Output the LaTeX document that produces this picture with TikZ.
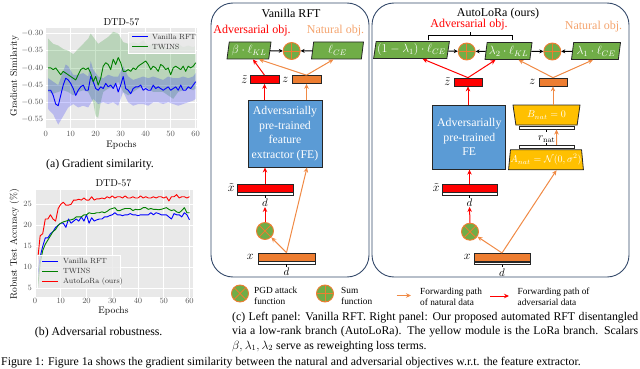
\documentclass[tikz,border=0pt]{standalone}
\usepackage{amsmath,amssymb}
\usepackage{fontspec}
\newfontfamily\timesfont{Liberation Serif}
\usepackage{tikz}
\usetikzlibrary{positioning,shapes.geometric,arrows.meta}
\definecolor{PanelEdge}{HTML}{34496A}
\definecolor{LossGreen}{HTML}{70AD47}
\definecolor{EdgeDark}{HTML}{262626}
\definecolor{AdvRed}{HTML}{FF0000}
\definecolor{NatOrange}{HTML}{ED7D31}
\definecolor{NatArrow}{HTML}{F08A45}
\definecolor{NatText}{HTML}{F4A46E}
\definecolor{FEBlue}{HTML}{5B9BD5}
\definecolor{LoraGold}{HTML}{FFC000}
\definecolor{PlotBg}{HTML}{E9E9E9}
\definecolor{PlotTick}{HTML}{555555}
\definecolor{CurveBlue}{HTML}{0000FF}
\definecolor{CurveGreen}{HTML}{008000}
\definecolor{CurveRed}{HTML}{FF0000}

\tikzset{
  panel/.style={draw=PanelEdge,line width=0.9pt,rounded corners=22pt,inner sep=0pt},
  paneltitle/.style={font=\timesfont\fontsize{12}{14}\selectfont,inner sep=0pt},
  advtitle/.style={paneltitle,text=AdvRed},
  nattitle/.style={paneltitle,text=NatText},
  lossbox/.style={trapezium,trapezium left angle=78,trapezium right angle=102,
    trapezium stretches body=true,fill=LossGreen,draw=EdgeDark,line width=0.8pt,
    minimum height=17pt,inner xsep=1pt,inner ysep=0pt,text=white,
    font=\fontsize{11.5}{13}\selectfont},
  opcirc/.style={circle,minimum size=17pt,inner sep=0pt,fill=LossGreen,draw=NatOrange,line width=0.9pt},
  sumop/.style={opcirc,path picture={\draw[NatOrange,line width=0.9pt]
    (path picture bounding box.north) -- (path picture bounding box.south)
    (path picture bounding box.west) -- (path picture bounding box.east);}},
  pgdop/.style={opcirc,path picture={\draw[NatOrange,line width=0.9pt]
    (path picture bounding box.north west) -- (path picture bounding box.south east)
    (path picture bounding box.north east) -- (path picture bounding box.south west);}},
  advbar/.style={rectangle,fill=AdvRed,draw=EdgeDark,line width=0.7pt,minimum height=8pt,inner sep=0pt},
  natbar/.style={advbar,fill=NatOrange},
  dimbar/.style={rectangle,fill=white,draw=EdgeDark,line width=0.5pt,minimum height=2.6pt,inner sep=0pt},
  varlbl/.style={inner sep=0pt,font=\fontsize{13}{15}\selectfont},
  dimlbl/.style={inner sep=0pt,font=\fontsize{11}{13}\selectfont},
  febox/.style={rectangle,fill=FEBlue,draw=EdgeDark,line width=0.9pt,text=white,align=center,
    inner sep=0pt,font=\timesfont\fontsize{11.8}{14.5}\selectfont},
  lorabox/.style={trapezium,trapezium stretches body=true,fill=LoraGold,draw=EdgeDark,line width=0.8pt,
    minimum height=20pt,inner xsep=0pt,inner ysep=0pt,text=white,font=\fontsize{10}{12}\selectfont},
  advarr/.style={-{Stealth[length=5pt,width=4.5pt]},draw=AdvRed,line width=1pt},
  natarr/.style={-{Stealth[length=5pt,width=4.5pt]},draw=NatArrow,line width=1pt},
  sumarr/.style={-{Stealth[length=4pt,width=4pt]},draw=black,line width=1pt},
  legtxt/.style={anchor=west,align=left,inner sep=0pt,font=\timesfont\fontsize{9.3}{11}\selectfont},
  captxt/.style={inner sep=0pt,font=\timesfont\fontsize{11.8}{14.5}\selectfont},
  plottitle/.style={inner sep=0pt,font=\fontsize{10}{12}\selectfont},
  plotlbl/.style={inner sep=0pt,font=\fontsize{9.5}{11}\selectfont},
  ticklbl/.style={inner sep=0pt,text=PlotTick,font=\fontsize{8.5}{10}\selectfont},
  keytxt/.style={anchor=west,inner sep=0pt,text=black!80,font=\fontsize{7.5}{9}\selectfont},
  gridln/.style={white,line width=0.7pt},
}

\begin{document}
\begin{tikzpicture}[x=1pt,y=-1pt]
  \useasboundingbox (0,0) rectangle (640,369);
  \clip (0,0) rectangle (640,369);

  % (a) gradient similarity
  \node[plottitle] (gstitle) at (121.5,22) {DTD-57};
  \node[plotlbl,rotate=90] (gsylab) at (14.5,76) {Gradient Similarity};
  \node[plotlbl] (gsxlab) at (121.5,145) {Epochs};
  \begin{scope}[shift={(45.7,-69.7)},x=2.5pt,y=344pt]
    \fill[PlotBg] (0,-0.5747) rectangle (60.5,-0.284);
    \foreach \e in {0,10,...,60}
      \draw[gridln] (\e,-0.5747) -- (\e,-0.284);
    \foreach \v in {-0.55,-0.5,-0.45,-0.4,-0.35,-0.3}
      \draw[gridln] (0,\v) -- (60.5,\v);
    \fill[CurveGreen,opacity=0.2] (1,-0.315) -- (3,-0.33) -- (5,-0.335) -- (7,-0.345) -- (9,-0.35) -- (11,-0.36) -- (13,-0.345) -- (15,-0.33) -- (17,-0.315) -- (18,-0.3) -- (19,-0.31) -- (21,-0.33) -- (23,-0.32) -- (25,-0.31) -- (27,-0.295) -- (29,-0.3) -- (31,-0.325) -- (33,-0.33) -- (35,-0.325) -- (37,-0.33) -- (39,-0.32) -- (41,-0.335) -- (43,-0.33) -- (45,-0.335) -- (47,-0.335) -- (49,-0.345) -- (51,-0.34) -- (53,-0.33) -- (55,-0.34) -- (57,-0.335) -- (59,-0.34) -- (60,-0.335)
      -- (60,-0.46) -- (59,-0.465) -- (57,-0.46) -- (55,-0.465) -- (53,-0.47) -- (51,-0.49) -- (49,-0.48) -- (47,-0.47) -- (45,-0.47) -- (43,-0.47) -- (41,-0.46) -- (39,-0.455) -- (37,-0.46) -- (35,-0.47) -- (33,-0.48) -- (31,-0.47) -- (29,-0.44) -- (27,-0.455) -- (25,-0.46) -- (23,-0.47) -- (22,-0.5) -- (21,-0.545) -- (20,-0.54) -- (19,-0.5) -- (17,-0.47) -- (15,-0.465) -- (13,-0.47) -- (11,-0.48) -- (9,-0.47) -- (7,-0.465) -- (5,-0.47) -- (3,-0.475) -- (1,-0.47) -- cycle;
    \fill[CurveBlue,opacity=0.2] (1,-0.43) -- (3,-0.44) -- (5,-0.45) -- (7,-0.41) -- (8,-0.39) -- (9,-0.395) -- (11,-0.42) -- (13,-0.42) -- (15,-0.415) -- (17,-0.425) -- (18,-0.38) -- (19,-0.405) -- (21,-0.425) -- (23,-0.43) -- (25,-0.42) -- (27,-0.425) -- (29,-0.425) -- (31,-0.395) -- (33,-0.425) -- (35,-0.435) -- (37,-0.43) -- (39,-0.425) -- (41,-0.43) -- (43,-0.425) -- (45,-0.43) -- (47,-0.435) -- (49,-0.425) -- (51,-0.43) -- (53,-0.43) -- (55,-0.425) -- (57,-0.43) -- (59,-0.425) -- (60,-0.415)
      -- (60,-0.49) -- (59,-0.495) -- (57,-0.5) -- (55,-0.505) -- (53,-0.51) -- (51,-0.505) -- (49,-0.5) -- (47,-0.505) -- (45,-0.5) -- (43,-0.5) -- (41,-0.51) -- (39,-0.505) -- (37,-0.505) -- (35,-0.51) -- (33,-0.5) -- (31,-0.47) -- (29,-0.51) -- (27,-0.5) -- (25,-0.505) -- (23,-0.5) -- (21,-0.505) -- (19,-0.49) -- (17,-0.515) -- (15,-0.51) -- (13,-0.515) -- (11,-0.505) -- (9,-0.515) -- (7,-0.54) -- (5,-0.565) -- (3,-0.535) -- (1,-0.52) -- cycle;
    \draw[CurveBlue,line width=0.9pt,line join=round] plot coordinates {(1,-0.465) (2,-0.465) (3,-0.48) (4,-0.505) (5,-0.51) (6,-0.48) (7,-0.45) (8,-0.43) (9,-0.435) (10,-0.445) (11,-0.46) (12,-0.48) (13,-0.465) (14,-0.455) (15,-0.45) (16,-0.465) (17,-0.465) (18,-0.425) (19,-0.44) (20,-0.46) (21,-0.465) (22,-0.455) (23,-0.46) (24,-0.445) (25,-0.455) (26,-0.45) (27,-0.46) (28,-0.445) (29,-0.47) (30,-0.45) (31,-0.425) (32,-0.46) (33,-0.465) (34,-0.475) (35,-0.46) (36,-0.455) (37,-0.455) (38,-0.45) (39,-0.465) (40,-0.46) (41,-0.465) (42,-0.465) (43,-0.45) (44,-0.46) (45,-0.455) (46,-0.46) (47,-0.465) (48,-0.46) (49,-0.455) (50,-0.465) (51,-0.46) (52,-0.455) (53,-0.465) (54,-0.45) (55,-0.465) (56,-0.465) (57,-0.455) (58,-0.46) (59,-0.45) (60,-0.44)};
    \draw[CurveGreen,line width=0.9pt,line join=round] plot coordinates {(1,-0.4) (2,-0.4) (3,-0.405) (4,-0.4) (5,-0.41) (6,-0.42) (7,-0.41) (8,-0.415) (9,-0.42) (10,-0.425) (11,-0.43) (12,-0.435) (13,-0.42) (14,-0.405) (15,-0.4) (16,-0.405) (17,-0.4) (18,-0.415) (19,-0.44) (20,-0.425) (21,-0.45) (22,-0.43) (23,-0.395) (24,-0.385) (25,-0.39) (26,-0.405) (27,-0.375) (28,-0.39) (29,-0.37) (30,-0.385) (31,-0.41) (32,-0.41) (33,-0.405) (34,-0.41) (35,-0.4) (36,-0.405) (37,-0.395) (38,-0.39) (39,-0.385) (40,-0.38) (41,-0.39) (42,-0.405) (43,-0.395) (44,-0.4) (45,-0.41) (46,-0.39) (47,-0.395) (48,-0.405) (49,-0.4) (50,-0.42) (51,-0.4) (52,-0.395) (53,-0.4) (54,-0.405) (55,-0.395) (56,-0.41) (57,-0.395) (58,-0.4) (59,-0.395) (60,-0.385)};
    \foreach \v/\t [count=\i] in {-0.55/-0.55,-0.5/-0.50,-0.45/-0.45,-0.4/-0.40,-0.35/-0.35,-0.3/-0.30}
      \node[ticklbl,anchor=east] (gsy\i) at (-0.9,\v) {$\t$};
    \foreach \e in {0,10,...,60}
      \node[ticklbl,anchor=north] (gsx\e) at (\e,-0.585) {$\e$};
  \end{scope}
  \node[draw=white,fill=PlotBg,fill opacity=0.8,minimum width=67pt,minimum height=21pt,inner sep=0pt] (gskey) at (161.5,42.5) {};
  \draw[CurveBlue,line width=1pt] (132,36.5) -- (148,36.5);
  \node[keytxt] (gskeyblue) at (152,36.5) {Vanilla RFT};
  \draw[CurveGreen,line width=1pt] (132,47) -- (148,47);
  \node[keytxt] (gskeygreen) at (152,47) {TWINS};
  \node[captxt] (gscap) at (100,164.5) {(a) Gradient similarity.};

  % (b) adversarial robustness
  \node[plottitle] (ratitle) at (113.5,183.5) {DTD-57};
  \node[plotlbl,rotate=90] (raylab) at (14.5,244) {Robust Test Accuracy (\%)};
  \node[plotlbl] (raxlab) at (113.5,311) {Epochs};
  \begin{scope}[shift={(35,309.3)},x=2.575pt,y=4.2pt]
    \fill[PlotBg] (0,2.93) rectangle (61.4,28.4);
    \foreach \e in {0,10,...,60}
      \draw[gridln] (\e,2.93) -- (\e,28.4);
    \foreach \v in {5,10,...,25}
      \draw[gridln] (0,\v) -- (61.4,\v);
    \draw[CurveBlue,line width=0.9pt,line join=round] plot coordinates {(1,7.5) (2,12.5) (3,15) (4,17) (5,17) (6,18) (7,18.5) (8,19.5) (9,20) (10,20.5) (11,20.5) (12,19.5) (13,21.5) (14,20.5) (15,21) (16,21.5) (17,21) (18,22) (19,21) (20,22.5) (21,20.5) (22,21.8) (23,21) (24,21.3) (25,21.5) (26,21.5) (27,22) (28,22) (29,22.3) (30,22.5) (31,23) (32,22.5) (33,22.5) (34,22.3) (35,22.5) (36,22.5) (37,22.8) (38,22.5) (39,22.5) (40,22.3) (41,22.5) (42,22.5) (43,22.5) (44,22.5) (45,23) (46,22.5) (47,23) (48,22.8) (49,22.5) (50,22.5) (51,22.5) (52,22) (53,21.5) (54,22.8) (55,22.5) (56,22.5) (57,22) (58,23) (59,22.5) (60,21.3)};
    \draw[CurveGreen,line width=0.9pt,line join=round] plot coordinates {(1,5) (2,11) (3,14) (4,15.5) (5,16.5) (6,17.5) (7,18.5) (8,19) (9,20) (10,20.5) (11,20.8) (12,21) (13,21.2) (14,21.3) (15,21.5) (16,22) (17,22) (18,22) (19,22.5) (20,22.5) (21,23) (22,22.8) (23,22.8) (24,23) (25,23) (26,23.2) (27,23) (28,23.3) (29,23.8) (30,24) (31,24.2) (32,23.5) (33,23.5) (34,23.8) (35,24) (36,24) (37,24) (38,23.5) (39,23.8) (40,23.7) (41,23.8) (42,24.2) (43,24.2) (44,23.8) (45,24) (46,23.8) (47,23.8) (48,23.7) (49,23.8) (50,24) (51,24.2) (52,23.8) (53,23.5) (54,23.7) (55,23.2) (56,23) (57,23.5) (58,24.2) (59,23) (60,23)};
    \draw[CurveRed,line width=0.9pt,line join=round] plot coordinates {(1,11.5) (2,17.5) (3,18) (4,21.5) (5,21.5) (6,22.5) (7,21.5) (8,21) (9,24) (10,25) (11,25.5) (12,24.8) (13,24.8) (14,25) (15,26) (16,26) (17,26.2) (18,26) (19,26.5) (20,26) (21,26) (22,26.8) (23,26) (24,26.3) (25,26.3) (26,26.5) (27,26.3) (28,26.8) (29,26.5) (30,27) (31,26.5) (32,26.8) (33,26.8) (34,26.5) (35,27) (36,26.5) (37,26.5) (38,26.8) (39,26.5) (40,26.5) (41,27) (42,26.5) (43,26.8) (44,26.5) (45,26.5) (46,26.8) (47,26.5) (48,26.8) (49,26.8) (50,26.5) (51,26.8) (52,25.8) (53,26.8) (54,26.8) (55,27.3) (56,26.5) (57,26.8) (58,26.8) (59,26.5) (60,26.8)};
    \foreach \v in {5,10,...,25}
      \node[ticklbl,anchor=east] (ray\v) at (-1.1,\v) {$\v$};
    \foreach \e in {0,10,...,60}
      \node[ticklbl,anchor=north] (rax\e) at (\e,2.75) {$\e$};
  \end{scope}
  \node[draw=white,fill=PlotBg,fill opacity=0.8,minimum width=83pt,minimum height=33pt,inner sep=0pt] (rakey) at (78.5,271.5) {};
  \draw[CurveBlue,line width=1pt] (42,261) -- (58,261);
  \node[keytxt] (rakeyblue) at (63,261) {Vanilla RFT};
  \draw[CurveGreen,line width=1pt] (42,271.3) -- (58,271.3);
  \node[keytxt] (rakeygreen) at (63,271.3) {TWINS};
  \draw[CurveRed,line width=1pt] (42,281.8) -- (58,281.8);
  \node[keytxt] (rakeyred) at (63,281.8) {AutoLoRa (ours)};
  \node[captxt] (racap) at (98.7,333) {(b) Adversarial robustness.};

  % Vanilla RFT panel
  \node[panel,minimum width=158pt,minimum height=274pt] (vpanel) at (290,140) {};
  \node[paneltitle] (vtitle) at (291,13) {Vanilla RFT};
  \node[advtitle] (vadvtitle) at (252,31) {Adversarial obj.};
  \node[nattitle] (vnattitle) at (335.5,31) {Natural obj.};
  \node[lossbox,minimum width=44pt] (vkl) at (249,50.5) {$\beta\cdot\ell_{KL}$};
  \node[sumop] (vsum) at (291.7,51) {};
  \node[lossbox,minimum width=52pt] (vce) at (337.5,50.5) {$\ell_{CE}$};
  \draw[sumarr] (vkl) -- (vsum);
  \draw[sumarr] (vce) -- (vsum);
  \node[advbar,minimum width=29pt] (vzadv) at (264.5,79.5) {};
  \node[varlbl,left=2pt of vzadv] (vzadvlbl) {$\tilde{z}$};
  \node[natbar,minimum width=29pt] (vznat) at (306.5,79.5) {};
  \node[varlbl,left=3pt of vznat] (vznatlbl) {$z$};
  \draw[advarr] (vzadv.north) -- ([xshift=4pt]vkl.south);
  \draw[natarr] (vznat.north) -- ([xshift=10pt]vkl.south);
  \draw[natarr] (vznat.north) -- ([xshift=-4pt]vce.south);
  \node[febox,minimum width=74pt,minimum height=67pt] (vfe) at (285,133.5) {Adversarially\\pre-trained\\feature\\extractor (FE)};
  \draw[advarr] (vfe.north -| vzadv) -- (vzadv.south);
  \draw[natarr] (vfe.north -| vznat) -- (vznat.south);
  \node[advbar,minimum width=56pt] (vxadv) at (265,188) {};
  \node[dimbar,minimum width=56pt,below=0pt of vxadv] (vxadvdim) {};
  \node[dimlbl,below=3.5pt of vxadvdim] (vxadvd) {$d$};
  \draw[line width=0.5pt] (vxadvdim.south) -- ++(0,2.5);
  \node[varlbl,left=2pt of vxadv] (vxadvlbl) {$\tilde{x}$};
  \draw[advarr] (vxadv.north) -- (vfe.south -| vxadv);
  \node[pgdop] (vpgd) at (265,231) {};
  \draw[advarr] (vpgd.north) -- (vxadvd.south);
  \node[natbar,minimum width=57pt] (vxnat) at (286.5,257) {};
  \node[dimbar,minimum width=57pt,below=0pt of vxnat] (vxnatdim) {};
  \node[dimlbl,below=3.5pt of vxnatdim] (vxnatd) {$d$};
  \draw[line width=0.5pt] (vxnatdim.south) -- ++(0,2.5);
  \node[varlbl,left=4pt of vxnat] (vxnatlbl) {$x$};
  \draw[natarr] (vxnat.north) -- (vpgd);
  \draw[natarr] (vxnat.north) -- ([xshift=22pt]vfe.south);

  % AutoLoRa panel
  \node[panel,minimum width=257pt,minimum height=274pt] (apanel) at (500.5,140) {};
  \node[paneltitle] (atitle) at (498,13.3) {AutoLoRa (ours)};
  \node[advtitle] (aadvtitle) at (469,25) {Adversarial obj.};
  \node[nattitle] (anattitle) at (593.5,27) {Natural obj.};
  \draw[line width=0.8pt] (428,40.5) |- (512,35.5) -- (512,40.5) (470,35.5) -- (470,32);
  \node[lossbox,minimum width=73pt] (acea) at (411.5,50) {$(1-\lambda_1)\cdot\ell_{CE}$};
  \node[sumop] (asuma) at (466.7,51.5) {};
  \node[lossbox,minimum width=47pt] (akl) at (508.5,51) {$\lambda_2\cdot\ell_{KL}$};
  \node[sumop] (asumb) at (552.3,51.5) {};
  \node[lossbox,minimum width=49pt] (aceb) at (596,51) {$\lambda_1\cdot\ell_{CE}$};
  \draw[sumarr] (acea) -- (asuma);
  \draw[sumarr] (akl) -- (asuma);
  \draw[sumarr] (akl) -- (asumb);
  \draw[sumarr] (aceb) -- (asumb);
  \node[advbar,minimum width=28pt] (azadv) at (468,82) {};
  \node[varlbl,left=3pt of azadv] (azadvlbl) {$\tilde{z}$};
  \node[natbar,minimum width=28pt] (aznat) at (553,82) {};
  \node[varlbl,left=3pt of aznat] (aznatlbl) {$z$};
  \draw[advarr] (azadv.north) -- ([xshift=11pt]acea.south);
  \draw[advarr] (azadv.north) -- ([xshift=-13pt]akl.south);
  \draw[natarr] (aznat.north) -- ([xshift=10pt]akl.south);
  \draw[natarr] (aznat.north) -- ([xshift=-3pt]aceb.south);
  \node[febox,minimum width=73pt,minimum height=64pt] (afe) at (469.3,137.2) {Adversarially\\pre-trained\\FE};
  \draw[advarr] (afe.north -| azadv) -- (azadv.south);
  \node[lorabox,trapezium left angle=109,trapezium right angle=109,minimum width=67pt] (abnat) at (546.5,115) {$B_{nat}=0$};
  \node[dimbar,minimum width=55pt,below=1pt of abnat] (abdim) {};
  \draw[line width=0.5pt] (abdim.south) -- ++(0,2);
  \node[dimlbl] (arnat) at (546.7,139) {$r_{\mathrm{nat}}$};
  \node[dimbar,minimum width=55pt] (aadim) at (546.5,146.5) {};
  \draw[line width=0.5pt] (aadim.north) -- ++(0,-2);
  \node[lorabox,trapezium left angle=80,trapezium right angle=80,minimum width=66pt] (aanat) at (546,159.8) {$A_{nat}=\mathcal{N}(0,\sigma^2)$};
  \draw[natarr] ([xshift=10pt]aadim.north) -- ([xshift=10pt]abdim.south);
  \draw[natarr] (abnat.north -| aznat) -- (aznat.south);
  \node[advbar,minimum width=55pt] (axadv) at (469.5,188) {};
  \node[dimbar,minimum width=55pt,below=0pt of axadv] (axadvdim) {};
  \node[dimlbl,below=3.5pt of axadvdim] (axadvd) {$d$};
  \draw[line width=0.5pt] (axadvdim.south) -- ++(0,2.5);
  \node[varlbl,left=2pt of axadv] (axadvlbl) {$\tilde{x}$};
  \draw[advarr] (axadv.north) -- (afe.south -| axadv);
  \node[pgdop] (apgd) at (470,231.7) {};
  \draw[advarr] (apgd.north) -- (axadvd.south);
  \node[natbar,minimum width=56pt] (axnat) at (502,257.3) {};
  \node[dimbar,minimum width=56pt,below=0pt of axnat] (axnatdim) {};
  \node[dimlbl,below=3.5pt of axnatdim] (axnatd) {$d$};
  \draw[line width=0.5pt] (axnatdim.south) -- ++(0,2.5);
  \node[varlbl,left=3pt of axnat] (axnatlbl) {$x$};
  \draw[natarr] (axnat.north) -- (apgd);
  \draw[natarr] (axnat.north) -- ([xshift=10.5pt]aanat.south);

  % legend row
  \node[pgdop] (keypgd) at (240,293.5) {};
  \node[legtxt] (keypgdtxt) at (254,296) {PGD attack\\function};
  \node[sumop] (keysum) at (325,293.5) {};
  \node[legtxt] (keysumtxt) at (341,296) {Sum\\function};
  \coordinate (keynatA) at (396.5,295.5);
  \coordinate (keynatB) at (411,295.5);
  \draw[natarr] (keynatA) -- (keynatB);
  \node[legtxt] (keynattxt) at (420,296.5) {Forwarding path\\of natural data};
  \coordinate (keyadvA) at (490,296);
  \coordinate (keyadvB) at (509,296);
  \draw[advarr] (keyadvA) -- (keyadvB);
  \node[legtxt] (keyadvtxt) at (517.5,296.5) {Forwarding path of\\adversarial data};

  % captions
  \node[captxt,anchor=north west,text width=406pt,align=justify] (figcap) at (232,311.5) {(c) Left panel: Vanilla RFT. Right panel: Our proposed automated RFT disentangled\linebreak via a low-rank branch (AutoLoRa). The yellow module is the LoRa branch. Scalars\linebreak $\beta,\lambda_1,\lambda_2$ serve as reweighting loss terms.};
  \node[captxt,anchor=base west] (figline) at (1,365.5) {Figure 1: Figure 1a shows the gradient similarity between the natural and adversarial objectives w.r.t. the feature extractor.};
\end{tikzpicture}
\end{document}
